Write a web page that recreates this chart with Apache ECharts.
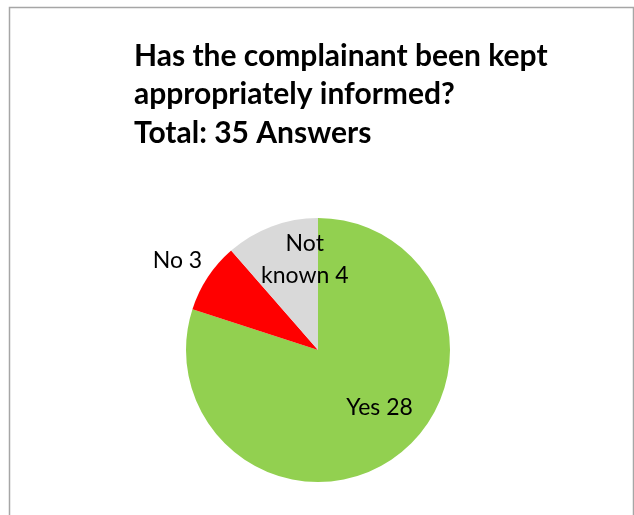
<!DOCTYPE html>
<html>
<head>
<meta charset="utf-8">
<script src="https://cdn.jsdelivr.net/npm/echarts@6/dist/echarts.min.js"></script>
<style>
html,body{margin:0;padding:0;background:#fff;}
#chart{width:634px;height:515px;}
</style>
</head>
<body>
<div id="chart"></div>
<script>
const categories = ['Yes', 'No', 'Not known'];
const values = [28, 3, 4];
const labelTexts = ['Yes 28', 'No 3', 'Not\nknown 4'];
const titleText = 'Has the complainant been kept\nappropriately informed?\nTotal: 35 Answers';

const colors = ['#92D050', '#FF0000', '#D9D9D9'];
const labelShift = [[21, 2], [-83, -51], [11, -26]];

const chart = echarts.init(document.getElementById('chart'), null, {renderer: 'canvas'});
chart.setOption({
  animation: false,
  backgroundColor: '#fff',
  title: {
    text: titleText,
    left: 129,
    top: 32,
    textStyle: {
      fontFamily: 'Lato',
      fontWeight: 'bold',
      fontSize: 30,
      lineHeight: 38.5,
      color: '#000'
    }
  },
  graphic: [{
    type: 'rect',
    shape: {x: 9.5, y: 7.5, width: 624, height: 520},
    style: {fill: 'none', stroke: '#A6A6A6', lineWidth: 1.5},
    silent: true
  }],
  series: [{
    type: 'pie',
    center: [318, 350],
    radius: [0, 132],
    startAngle: 90,
    clockwise: true,
    avoidLabelOverlap: false,
    label: {
      show: true,
      position: 'inside',
      fontFamily: 'Lato',
      fontSize: 23,
      lineHeight: 32,
      color: '#000',
      align: 'center',
      formatter: p => labelTexts[p.dataIndex]
    },
    labelLine: {show: false},
    labelLayout: p => ({dx: labelShift[p.dataIndex][0], dy: labelShift[p.dataIndex][1]}),
    itemStyle: {borderWidth: 0},
    emphasis: {disabled: true},
    data: categories.map((c, i) => ({name: c, value: values[i], itemStyle: {color: colors[i]}}))
  }]
});
</script>
</body>
</html>
